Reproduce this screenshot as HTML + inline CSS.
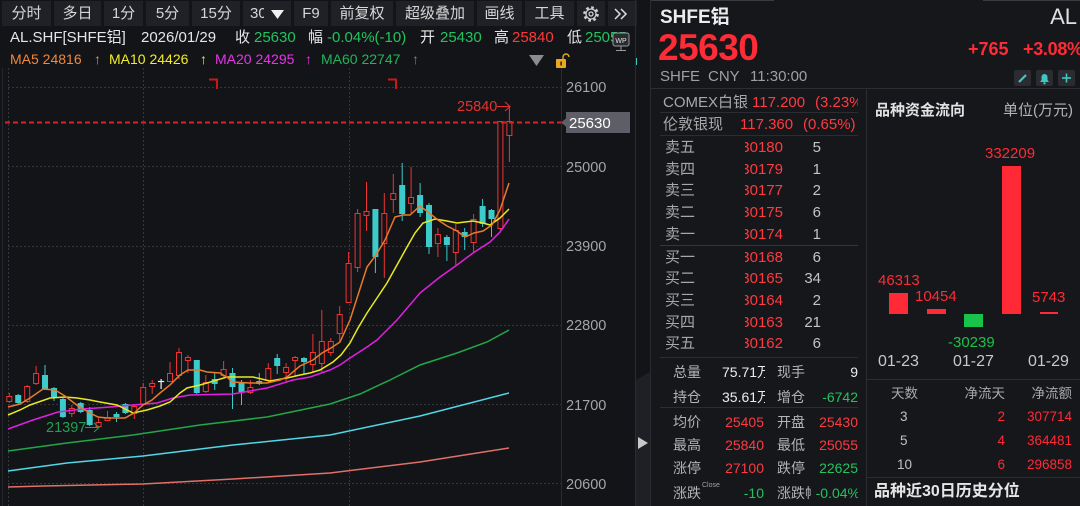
<!DOCTYPE html>
<html><head><meta charset="utf-8">
<style>
*{margin:0;padding:0;box-sizing:border-box}
body{width:1080px;height:506px;overflow:hidden;background:#131418;font-family:"Liberation Sans","Noto Sans CJK SC",sans-serif;position:relative;color:#d8d8d8}
.a{position:absolute;white-space:nowrap}
.btn{position:absolute;top:1px;height:25px;background:#202126;color:#d6d6d6;font-size:15px;line-height:25px;text-align:center}
.t15{font-size:15px;line-height:15px}
.t14{font-size:14px;line-height:14px}
.g{color:#22c35e}.r{color:#ff3838}.w{color:#e6e6e6}.gr{color:#a8a8a8}
.clip{position:absolute;overflow:hidden;white-space:nowrap}
.hl{position:absolute;height:1px;background:#2c2d33}
</style></head><body>

<!-- toolbar -->
<div class="btn" style="left:2px;width:49px">分时</div>
<div class="btn" style="left:54px;width:47px">多日</div>
<div class="btn" style="left:104px;width:39px">1分</div>
<div class="btn" style="left:146px;width:43px">5分</div>
<div class="btn" style="left:192px;width:48px">15分</div>
<div class="btn" style="left:243px;width:48px;text-align:left;padding-left:7px;overflow:hidden">30</div>
<div class="a" style="left:264px;top:1px;width:27px;height:25px;background:#202126"></div>
<svg class="a" style="left:270px;top:8px" width="16" height="12"><polygon points="1,2 14,2 7.5,11" fill="#f0f0f0"/></svg>
<div class="btn" style="left:294px;width:34px">F9</div>
<div class="btn" style="left:331px;width:62px">前复权</div>
<div class="btn" style="left:396px;width:78px">超级叠加</div>
<div class="btn" style="left:477px;width:45px">画线</div>
<div class="btn" style="left:525px;width:49px">工具</div>
<div class="btn" style="left:577px;width:28px"></div>
<div class="btn" style="left:608px;width:29px"></div>
<svg class="a" style="left:580px;top:3px" width="22" height="22">
<circle cx="11" cy="11" r="6.5" fill="none" stroke="#cfcfcf" stroke-width="2.6" stroke-dasharray="2.6 2.5"/>
<circle cx="11" cy="11" r="5" fill="#202126" stroke="#cfcfcf" stroke-width="1.3"/>
<circle cx="11" cy="11" r="2" fill="none" stroke="#cfcfcf" stroke-width="1.3"/>
</svg>
<svg class="a" style="left:612px;top:6px" width="20" height="16">
<polyline points="3,3 8,8 3,13" fill="none" stroke="#dcdcdc" stroke-width="1.5"/>
<polyline points="9,3 14,8 9,13" fill="none" stroke="#dcdcdc" stroke-width="1.5"/>
</svg>

<!-- info line -->
<div class="a t15 w" style="left:10px;top:30px">AL.SHF[SHFE铝]</div>
<div class="a t15 w" style="left:141px;top:30px">2026/01/29</div>
<div class="a t15 w" style="left:235px;top:30px">收</div>
<div class="a t15 g" style="left:254px;top:30px">25630</div>
<div class="a t15 w" style="left:308px;top:30px">幅</div>
<div class="a t15 g" style="left:327px;top:30px">-0.04%(-10)</div>
<div class="a t15 w" style="left:420px;top:30px">开</div>
<div class="a t15 g" style="left:440px;top:30px">25430</div>
<div class="a t15 w" style="left:494px;top:30px">高</div>
<div class="a t15 r" style="left:512px;top:30px">25840</div>
<div class="a t15 w" style="left:567px;top:30px">低</div>
<div class="a t15 g" style="left:585px;top:30px">25055</div>
<svg class="a" style="left:611px;top:31px" width="22" height="22">
<rect x="2" y="2" width="16" height="13" rx="2" fill="#2a2b30" stroke="#9a9a9a" stroke-width="1"/>
<text x="10" y="12" font-size="7" fill="#e0e0e0" text-anchor="middle" font-family="Liberation Sans">WP</text>
<line x1="10" y1="15" x2="10" y2="19" stroke="#9a9a9a"/><line x1="5" y1="19.5" x2="15" y2="19.5" stroke="#9a9a9a"/>
</svg>

<!-- MA line -->
<div class="a t14" style="left:10px;top:52px;color:#f0883a">MA5 24816</div>
<div class="a t14" style="left:94px;top:52px;color:#f0883a">↑</div>
<div class="a t14" style="left:109px;top:52px;color:#f2ee22">MA10 24426</div>
<div class="a t14" style="left:200px;top:52px;color:#f2ee22">↑</div>
<div class="a t14" style="left:215px;top:52px;color:#e834e8">MA20 24295</div>
<div class="a t14" style="left:305px;top:52px;color:#e834e8">↑</div>
<div class="a t14" style="left:321px;top:52px;color:#22b45a">MA60 22747</div>
<div class="a t14" style="left:412px;top:52px;color:#22b45a">↑</div>
<svg class="a" style="left:527px;top:53px" width="48" height="16">
<polygon points="2,2 17,2 9.5,13" fill="#8c8c8c"/>
<path d="M36 6 V4 a3 3 0 0 1 6 0" fill="none" stroke="#e8a820" stroke-width="1.4"/>
<rect x="29" y="6" width="10" height="9" rx="1" fill="#e8a820"/>
<rect x="33.3" y="8.5" width="1.6" height="4" fill="#3a2a00"/>
</svg>
<div class="a" style="left:636px;top:58px;width:1px;height:7px;background:#3cc8c8"></div>

<!-- chart -->
<svg class="a" style="left:0;top:0" width="650" height="506">
<line x1="2.5" y1="68" x2="2.5" y2="506" stroke="#26272c" stroke-width="1"/>
<g stroke="#35363c" stroke-width="1" stroke-dasharray="2 2">
<line x1="8" y1="87.5" x2="561" y2="87.5"/>
<line x1="8" y1="166.5" x2="561" y2="166.5"/>
<line x1="8" y1="246.5" x2="561" y2="246.5"/>
<line x1="8" y1="325.5" x2="561" y2="325.5"/>
<line x1="8" y1="404.5" x2="561" y2="404.5"/>
<line x1="8" y1="483.5" x2="561" y2="483.5"/>
<line x1="8.5" y1="68" x2="8.5" y2="506"/>
<line x1="143.5" y1="68" x2="143.5" y2="506"/>
<line x1="349.5" y1="68" x2="349.5" y2="506"/>
</g>
<line x1="561.5" y1="68" x2="561.5" y2="506" stroke="#2a2b30"/>
<line x1="635.5" y1="0" x2="635.5" y2="506" stroke="#2a2b30"/>
<path d="M209 79.5 H217 V89" fill="none" stroke="#c81818" stroke-width="2"/>
<path d="M388 79.5 H396 V89" fill="none" stroke="#c81818" stroke-width="2"/>

<!-- long MAs -->
<polyline fill="none" stroke="#e07068" stroke-width="1.5" points="8,487 43,486 143,484 233,479 330,473 420,462 509,448"/>
<polyline fill="none" stroke="#50d8e8" stroke-width="1.5" points="8,471 67,463 143,456 233,445 330,435 420,416 509,393"/>
<polyline fill="none" stroke="#20a848" stroke-width="1.5" points="8,451 67,443 133,435 200,425 267,417 330,404 360,394 390,380 420,365 457,353 487,342 509,330"/>

<!-- cyan candles -->
<g stroke="#3ccaca" stroke-width="1">
<line x1="18.2" y1="394" x2="18.2" y2="404"/><line x1="45" y1="365" x2="45" y2="390"/><line x1="54" y1="387" x2="54" y2="401"/>
<line x1="62.9" y1="398" x2="62.9" y2="418"/><line x1="80.7" y1="402" x2="80.7" y2="413"/><line x1="89.7" y1="407" x2="89.7" y2="426"/>
<line x1="116.5" y1="412" x2="116.5" y2="422"/><line x1="125.4" y1="403" x2="125.4" y2="414"/><line x1="196.8" y1="360" x2="196.8" y2="394"/>
<line x1="214.7" y1="373" x2="214.7" y2="390"/><line x1="232.5" y1="368" x2="232.5" y2="409"/><line x1="241.5" y1="380" x2="241.5" y2="405"/>
<line x1="259.3" y1="373" x2="259.3" y2="385"/><line x1="277.2" y1="354" x2="277.2" y2="374"/><line x1="304" y1="357" x2="304" y2="375"/>
<line x1="375.4" y1="209" x2="375.4" y2="273"/><line x1="402.2" y1="163" x2="402.2" y2="221"/><line x1="420.1" y1="183" x2="420.1" y2="217"/>
<line x1="429" y1="203" x2="429" y2="254"/><line x1="446.9" y1="235" x2="446.9" y2="261"/><line x1="464.7" y1="228" x2="464.7" y2="250"/>
<line x1="482.6" y1="199" x2="482.6" y2="227"/><line x1="491.5" y1="209" x2="491.5" y2="237"/>
</g>
<g fill="#3ccaca">
<rect x="15.2" y="395" width="6" height="8"/><rect x="42" y="375" width="6" height="14"/><rect x="51" y="388" width="6" height="9"/>
<rect x="59.9" y="399" width="6" height="18"/><rect x="77.7" y="403" width="6" height="9"/><rect x="86.7" y="410" width="6" height="15"/>
<rect x="113.5" y="414" width="6" height="3"/><rect x="122.4" y="404" width="6" height="9"/><rect x="193.8" y="360" width="6" height="33"/>
<rect x="211.7" y="379" width="6" height="5"/><rect x="229.5" y="373" width="6" height="14"/><rect x="238.5" y="382" width="6" height="10"/>
<rect x="256.3" y="381" width="6" height="3"/><rect x="274.2" y="358" width="6" height="8"/><rect x="301" y="358" width="6" height="4"/>
<rect x="372.4" y="209" width="6" height="48"/><rect x="399.2" y="185" width="6" height="29"/><rect x="417.1" y="195" width="6" height="18"/>
<rect x="426" y="205" width="6" height="42"/><rect x="443.9" y="237" width="6" height="8"/><rect x="461.7" y="232" width="6" height="5"/>
<rect x="479.6" y="206" width="6" height="18"/><rect x="488.5" y="210" width="6" height="9"/>
</g>
<!-- red candles -->
<g stroke="#ee3333" stroke-width="1">
<line x1="9.3" y1="393" x2="9.3" y2="403"/><line x1="27.2" y1="385" x2="27.2" y2="403"/><line x1="36.1" y1="366" x2="36.1" y2="385"/>
<line x1="71.8" y1="405" x2="71.8" y2="417"/><line x1="98.6" y1="418" x2="98.6" y2="426"/><line x1="107.5" y1="411" x2="107.5" y2="421"/>
<line x1="134.3" y1="404" x2="134.3" y2="419"/><line x1="143.2" y1="383" x2="143.2" y2="405"/><line x1="152.2" y1="380" x2="152.2" y2="394"/>
<line x1="170" y1="362" x2="170" y2="382"/><line x1="179" y1="348" x2="179" y2="379"/><line x1="187.9" y1="355" x2="187.9" y2="373"/>
<line x1="205.8" y1="375" x2="205.8" y2="393"/><line x1="223.6" y1="361" x2="223.6" y2="377"/><line x1="250.4" y1="380" x2="250.4" y2="394"/>
<line x1="268.3" y1="363" x2="268.3" y2="382"/><line x1="286.1" y1="363" x2="286.1" y2="382"/><line x1="295.1" y1="356" x2="295.1" y2="377"/>
<line x1="312.9" y1="334" x2="312.9" y2="373"/><line x1="321.8" y1="310" x2="321.8" y2="372"/><line x1="330.8" y1="338" x2="330.8" y2="356"/>
<line x1="339.7" y1="306" x2="339.7" y2="342"/><line x1="348.6" y1="252" x2="348.6" y2="303"/><line x1="357.6" y1="209" x2="357.6" y2="272"/>
<line x1="366.5" y1="182" x2="366.5" y2="231"/><line x1="384.3" y1="193" x2="384.3" y2="278"/><line x1="393.3" y1="174" x2="393.3" y2="213"/>
<line x1="411.1" y1="167" x2="411.1" y2="213"/><line x1="437.9" y1="228" x2="437.9" y2="257"/><line x1="455.8" y1="224" x2="455.8" y2="265"/>
<line x1="473.6" y1="214" x2="473.6" y2="252"/><line x1="500.4" y1="121" x2="500.4" y2="230"/><line x1="509.4" y1="106" x2="509.4" y2="162"/>
</g>
<g stroke="#ee3333" stroke-width="1" fill="#131418">
<rect x="6.8" y="396.5" width="5" height="5"/><rect x="24.7" y="386.5" width="5" height="15"/><rect x="33.6" y="373.5" width="5" height="10"/>
<rect x="69.3" y="408.5" width="5" height="5"/><rect x="96.1" y="422.5" width="5" height="4"/><rect x="105" y="417.5" width="5" height="3"/>
<rect x="131.8" y="406.5" width="5" height="7"/><rect x="140.7" y="387.5" width="5" height="17"/><rect x="149.7" y="383.5" width="5" height="3"/>
<rect x="167.5" y="373.5" width="5" height="8"/><rect x="176.5" y="352.5" width="5" height="23"/><rect x="185.4" y="357.5" width="5" height="3"/>
<rect x="203.3" y="382.5" width="5" height="9"/><rect x="221.1" y="369.5" width="5" height="6"/><rect x="247.9" y="387.5" width="5" height="5"/>
<rect x="265.8" y="368.5" width="5" height="12"/><rect x="283.6" y="367.5" width="5" height="5"/><rect x="292.6" y="357.5" width="5" height="3"/>
<rect x="310.4" y="352.5" width="5" height="12"/><rect x="319.3" y="341.5" width="5" height="22"/><rect x="328.3" y="341.5" width="5" height="11"/>
<rect x="337.2" y="314.5" width="5" height="19"/><rect x="346.1" y="263.5" width="5" height="39"/><rect x="355.1" y="213.5" width="5" height="54"/>
<rect x="364" y="211.5" width="5" height="4"/><rect x="381.8" y="213.5" width="5" height="30"/><rect x="390.8" y="193.5" width="5" height="6"/>
<rect x="408.6" y="197.5" width="5" height="6"/><rect x="435.4" y="234.5" width="5" height="9"/><rect x="453.3" y="230.5" width="5" height="22"/>
<rect x="471.1" y="219.5" width="5" height="23"/><rect x="497.9" y="121.5" width="5" height="107"/><rect x="506.9" y="121.5" width="5" height="14"/>
</g>
<g stroke="#f0f0f0" stroke-width="1.2"><line x1="161.1" y1="379" x2="161.1" y2="389"/><line x1="158" y1="381.5" x2="164.2" y2="381.5"/></g>

<!-- short MAs -->
<polyline fill="none" stroke="#e020e0" stroke-width="1.5" points="8,429 33,420 58,412 83,409 110,407 133,405 157,403 173,398 190,395 233,394 267,388 293,380 310,377 330,370 340,365 350,358 367,347 377,340 397,320 420,293 440,277 457,265 473,253 490,242 500,232 509,219"/>
<polyline fill="none" stroke="#e8e820" stroke-width="1.5" points="8,415 20,410 30,405 50,398 65,397 77,398 90,400 100,402 117,405 125,409 133,413 147,410 160,406 170,402 180,393 187,388 200,385 207,383 227,377 253,377 270,381 287,378 300,375 310,373 320,370 333,362 341,355 350,343 358,328 367,313 377,298 387,283 397,265 407,247 415,233 423,223 435,219 447,221 457,223 465,222 473,221 483,223 490,225 500,218 509,209"/>
<polyline fill="none" stroke="#e87a2a" stroke-width="1.5" points="8,407 20,404 30,398 43,389 55,390 65,396 78,406 90,413 98,417 107,418 125,418 134,413 143,405 152,400 160,393 170,385 180,375 188,370 200,370 207,372 220,373 228,378 232,382 250,383 267,383 280,380 287,377 300,366 313,360 322,353 331,348 340,342 350,320 358,295 367,267 376,255 385,240 395,217 403,215 410,215 420,206 428,212 438,220 447,226 457,231 465,237 474,233 483,231 492,225 500,210 509,183"/>

<!-- last price line -->
<line x1="5" y1="122.5" x2="561" y2="122.5" stroke="#e02020" stroke-width="2" stroke-dasharray="5 3"/>

<!-- labels -->
<text x="457" y="111" font-size="14.5" fill="#e83030" font-family="Liberation Sans">25840</text>
<line x1="497" y1="106.5" x2="510" y2="106.5" stroke="#e83030" stroke-width="1"/>
<polyline points="505,102 510,106.5 505,111" fill="none" stroke="#e83030" stroke-width="1"/>
<text x="46" y="432" font-size="14.5" fill="#1fa050" font-family="Liberation Sans">21397</text>
<line x1="85" y1="427.5" x2="99" y2="427.5" stroke="#1fa050" stroke-width="1"/>
<polyline points="94,423 99,427.5 94,432" fill="none" stroke="#1fa050" stroke-width="1"/>

<g font-size="14.5" fill="#a5a5a5" font-family="Liberation Sans">
<text x="566" y="92">26100</text>
<text x="566" y="172">25000</text>
<text x="566" y="251">23900</text>
<text x="566" y="330">22800</text>
<text x="566" y="410">21700</text>
<text x="566" y="489">20600</text>
</g>
<polygon points="561,122.5 567,117.5 567,127.5" fill="#5d5e67"/>
<rect x="566" y="112" width="64" height="21" fill="#5d5e67"/>
<text x="569" y="128" font-size="15" fill="#ffffff" font-family="Liberation Sans">25630</text>

<polygon points="636,380 650,372 650,506 636,506" fill="#1f2025"/>
<polygon points="638,437 648,443 638,449" fill="#c8c8c8"/>
</svg>

<!-- right panel -->
<div class="a" style="left:651px;top:0;width:429px;height:506px;background:#16171b"></div>
<div class="a" style="left:650px;top:0;width:1px;height:506px;background:#2a2b30"></div>
<div class="a" style="left:651px;top:0;width:123px;height:1px;background:#3a3b40"></div>
<div class="a" style="left:983px;top:0;width:97px;height:1px;background:#3a3b40"></div>

<div class="a" style="left:660px;top:8px;font-size:19px;line-height:19px;font-weight:bold;color:#ececec">SHFE铝</div>
<div class="a" style="right:3px;top:6px;font-size:22px;line-height:22px;color:#e0e0e0">AL</div>
<div class="a" style="left:658px;top:29px;font-size:37px;line-height:37px;font-weight:bold;color:#ff2b36;letter-spacing:-0.5px">25630</div>
<div class="a" style="left:968px;top:40px;font-size:18px;line-height:18px;font-weight:bold;color:#ff2b36">+765</div>
<div class="a" style="left:1023px;top:40px;font-size:18px;line-height:18px;font-weight:bold;color:#ff2b36;letter-spacing:-0.3px">+3.08%</div>
<div class="a t15" style="left:660px;top:69px;color:#a0a0a0">SHFE</div>
<div class="a t15" style="left:708px;top:69px;color:#a0a0a0">CNY</div>
<div class="a t15" style="left:750px;top:69px;color:#a0a0a0">11:30:00</div>
<svg class="a" style="left:1014px;top:70px" width="62" height="17">
<rect x="0" y="0" width="17" height="16" rx="2" fill="#2a2c31"/>
<rect x="22" y="0" width="17" height="16" rx="2" fill="#2a2c31"/>
<rect x="44" y="0" width="17" height="16" rx="2" fill="#2a2c31"/>
<line x1="5" y1="12" x2="12" y2="5" stroke="#3ec9c0" stroke-width="2.2"/>
<path d="M26 12 h9 l-1.5-2 v-3 a3 3 0 0 0 -6 0 v3z" fill="#3ec9c0"/><circle cx="30.5" cy="13.3" r="1.2" fill="#3ec9c0"/>
<line x1="52.5" y1="3.5" x2="52.5" y2="12.5" stroke="#3ec9c0" stroke-width="1.6"/>
<line x1="48" y1="8" x2="57" y2="8" stroke="#3ec9c0" stroke-width="1.6"/>
</svg>

<div class="hl" style="left:651px;top:88px;width:429px"></div>
<div class="a" style="left:866px;top:88px;width:1px;height:418px;background:#2c2d33"></div>

<!-- left column -->
<div class="a t15 gr" style="left:663px;top:95px">COMEX白银</div>
<div class="a t15" style="left:752px;top:95px;color:#ff3a40">117.200</div>
<div class="clip t15" style="left:815px;top:95px;width:43px;color:#ff3a40">(3.23%)</div>
<div class="hl" style="left:660px;top:112px;width:198px"></div>
<div class="a t15 gr" style="left:663px;top:117px">伦敦银现</div>
<div class="a t15" style="left:740px;top:117px;color:#ff3a40">117.360</div>
<div class="a t15" style="left:803px;top:117px;color:#ff3a40">(0.65%)</div>
<div class="hl" style="left:660px;top:135px;width:198px"></div>

<div class="a t15 gr" style="left:665px;top:140px">卖五</div><div class="clip t15" style="left:745px;top:140px;width:38px;direction:rtl;color:#ff3a40">30180</div><div class="a t15" style="right:259px;top:140px;color:#c4c4c4">5</div>
<div class="a t15 gr" style="left:665px;top:162px">卖四</div><div class="clip t15" style="left:745px;top:162px;width:38px;direction:rtl;color:#ff3a40">30179</div><div class="a t15" style="right:259px;top:162px;color:#c4c4c4">1</div>
<div class="a t15 gr" style="left:665px;top:183px">卖三</div><div class="clip t15" style="left:745px;top:183px;width:38px;direction:rtl;color:#ff3a40">30177</div><div class="a t15" style="right:259px;top:183px;color:#c4c4c4">2</div>
<div class="a t15 gr" style="left:665px;top:205px">卖二</div><div class="clip t15" style="left:745px;top:205px;width:38px;direction:rtl;color:#ff3a40">30175</div><div class="a t15" style="right:259px;top:205px;color:#c4c4c4">6</div>
<div class="a t15 gr" style="left:665px;top:227px">卖一</div><div class="clip t15" style="left:745px;top:227px;width:38px;direction:rtl;color:#ff3a40">30174</div><div class="a t15" style="right:259px;top:227px;color:#c4c4c4">1</div>
<div class="hl" style="left:660px;top:245px;width:198px;background:#35363c"></div>
<div class="a t15 gr" style="left:665px;top:250px">买一</div><div class="clip t15" style="left:745px;top:250px;width:38px;direction:rtl;color:#ff3a40">30168</div><div class="a t15" style="right:259px;top:250px;color:#c4c4c4">6</div>
<div class="a t15 gr" style="left:665px;top:271px">买二</div><div class="clip t15" style="left:745px;top:271px;width:38px;direction:rtl;color:#ff3a40">30165</div><div class="a t15" style="right:259px;top:271px;color:#c4c4c4">34</div>
<div class="a t15 gr" style="left:665px;top:293px">买三</div><div class="clip t15" style="left:745px;top:293px;width:38px;direction:rtl;color:#ff3a40">30164</div><div class="a t15" style="right:259px;top:293px;color:#c4c4c4">2</div>
<div class="a t15 gr" style="left:665px;top:315px">买四</div><div class="clip t15" style="left:745px;top:315px;width:38px;direction:rtl;color:#ff3a40">30163</div><div class="a t15" style="right:259px;top:315px;color:#c4c4c4">21</div>
<div class="a t15 gr" style="left:665px;top:336px">买五</div><div class="clip t15" style="left:745px;top:336px;width:38px;direction:rtl;color:#ff3a40">30162</div><div class="a t15" style="right:259px;top:336px;color:#c4c4c4">6</div>
<div class="hl" style="left:660px;top:357px;width:198px"></div>

<div class="a t14" style="left:673px;top:365px;color:#b4b4b4">总量</div>
<div class="clip t14" style="left:722px;top:365px;width:43px;color:#ececec">75.71万</div>
<div class="a t14" style="left:777px;top:365px;color:#b4b4b4">现手</div>
<div class="a t14" style="right:222px;top:365px;color:#ececec">9</div>
<div class="a t14" style="left:673px;top:390px;color:#b4b4b4">持仓</div>
<div class="clip t14" style="left:722px;top:390px;width:43px;color:#ececec">35.61万</div>
<div class="a t14" style="left:777px;top:390px;color:#b4b4b4">增仓</div>
<div class="a t14" style="right:222px;top:390px;color:#22c35e">-6742</div>
<div class="hl" style="left:660px;top:407px;width:198px"></div>
<div class="a t14" style="left:673px;top:415px;color:#b4b4b4">均价</div>
<div class="a t14" style="right:316px;top:415px;color:#ff3a40">25405</div>
<div class="a t14" style="left:777px;top:415px;color:#b4b4b4">开盘</div>
<div class="a t14" style="right:222px;top:415px;color:#ff3a40">25430</div>
<div class="a t14" style="left:673px;top:438px;color:#b4b4b4">最高</div>
<div class="a t14" style="right:316px;top:438px;color:#ff3a40">25840</div>
<div class="a t14" style="left:777px;top:438px;color:#b4b4b4">最低</div>
<div class="a t14" style="right:222px;top:438px;color:#ff3a40">25055</div>
<div class="a t14" style="left:673px;top:461px;color:#b4b4b4">涨停</div>
<div class="a t14" style="right:316px;top:461px;color:#ff3a40">27100</div>
<div class="a t14" style="left:777px;top:461px;color:#b4b4b4">跌停</div>
<div class="a t14" style="right:222px;top:461px;color:#22c35e">22625</div>
<div class="a t14" style="left:673px;top:486px;color:#b4b4b4">涨跌</div>
<div class="a" style="left:702px;top:482px;font-size:7px;line-height:7px;color:#a0a0a0">Close</div>
<div class="a t14" style="right:316px;top:486px;color:#22c35e">-10</div>
<div class="clip t14" style="left:777px;top:486px;width:34px;color:#b4b4b4">涨跌幅</div>
<div class="clip t14" style="left:814px;top:486px;width:44px;height:16px"><span style="position:absolute;right:-2px;top:0;color:#22c35e">-0.04%</span></div>

<!-- right column -->
<div class="a t15" style="left:875px;top:103px;font-weight:bold;color:#e2e2e2">品种资金流向</div>
<div class="a t15" style="right:7px;top:103px;color:#b4b4b4">单位(万元)</div>

<div class="a" style="left:889px;top:293px;width:19px;height:21px;background:#ff2a35"></div>
<div class="a" style="left:927px;top:309px;width:19px;height:5px;background:#ff2a35"></div>
<div class="a" style="left:964px;top:314px;width:19px;height:13px;background:#19c24a"></div>
<div class="a" style="left:1002px;top:166px;width:19px;height:148px;background:#ff2a35"></div>
<div class="a" style="left:1040px;top:312px;width:18px;height:2px;background:#ff2a35"></div>

<div class="a t15" style="left:878px;top:273px;color:#ff2a35">46313</div>
<div class="a t15" style="left:915px;top:289px;color:#ff2a35">10454</div>
<div class="a t15" style="left:948px;top:335px;color:#19c24a">-30239</div>
<div class="a t15" style="left:985px;top:146px;color:#ff2a35">332209</div>
<div class="a t15" style="left:1032px;top:290px;color:#ff2a35">5743</div>
<div class="a" style="left:878px;top:354px;font-size:16px;line-height:16px;color:#c8c8c8">01-23</div>
<div class="a" style="left:953px;top:354px;font-size:16px;line-height:16px;color:#c8c8c8">01-27</div>
<div class="a" style="left:1028px;top:354px;font-size:16px;line-height:16px;color:#c8c8c8">01-29</div>

<div class="hl" style="left:867px;top:379px;width:213px"></div>
<div class="a" style="left:891px;top:387px;font-size:13.5px;line-height:14px;color:#a8a8a8">天数</div>
<div class="a" style="right:75px;top:387px;font-size:13.5px;line-height:14px;color:#a8a8a8">净流天</div>
<div class="a" style="right:8px;top:387px;font-size:13.5px;line-height:14px;color:#a8a8a8">净流额</div>

<div class="a" style="left:900px;top:410px;font-size:13.5px;line-height:14px;color:#c0c0c0">3</div>
<div class="a" style="right:75px;top:410px;font-size:13.5px;line-height:14px;color:#ff2a35">2</div>
<div class="a" style="right:8px;top:410px;font-size:13.5px;line-height:14px;color:#ff2a35">307714</div>
<div class="a" style="left:900px;top:434px;font-size:13.5px;line-height:14px;color:#c0c0c0">5</div>
<div class="a" style="right:75px;top:434px;font-size:13.5px;line-height:14px;color:#ff2a35">4</div>
<div class="a" style="right:8px;top:434px;font-size:13.5px;line-height:14px;color:#ff2a35">364481</div>
<div class="a" style="left:897px;top:458px;font-size:13.5px;line-height:14px;color:#c0c0c0">10</div>
<div class="a" style="right:75px;top:458px;font-size:13.5px;line-height:14px;color:#ff2a35">6</div>
<div class="a" style="right:8px;top:458px;font-size:13.5px;line-height:14px;color:#ff2a35">296858</div>
<div class="hl" style="left:867px;top:477px;width:213px"></div>
<div class="a" style="left:874px;top:484px;font-size:16px;line-height:16px;font-weight:bold;color:#e6e6e6">品种近30日历史分位</div>

</body></html>
